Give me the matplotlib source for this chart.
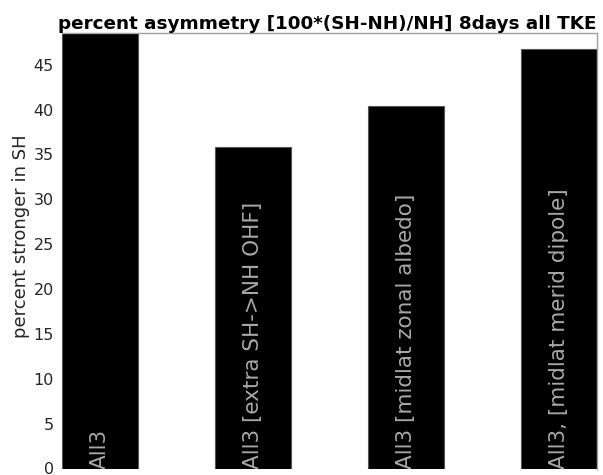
import matplotlib
matplotlib.use("Agg")
import matplotlib.pyplot as plt

categories = ["All3", "All3 [extra SH->NH OHF]", "All3 [midlat zonal albedo]", "All3, [midlat merid dipole]"]
values = [48.6, 35.8, 40.35, 46.75]
yticks = [0, 5, 10, 15, 20, 25, 30, 35, 40, 45]
ymax = 48.5

fig = plt.figure(figsize=(6.03, 4.75), dpi=100)
ax = fig.add_axes([62/603, 1-468.5/475, 535/603, 435.2/475])
x = list(range(1, len(values)+1))
ax.bar(x, values, width=0.5, color="black", edgecolor="#555555", linewidth=0.8)
ax.set_xlim(0.75, 4.25)
ax.set_ylim(0, ymax)
ax.set_yticks(yticks)
ax.set_xticks([])
ax.tick_params(axis="y", length=0, labelsize=11.5, colors="#262626", pad=6)
for s in ax.spines.values():
    s.set_color("#a0a0a0")
    s.set_linewidth(1.0)
ax.spines["left"].set_visible(False)
ax.spines["bottom"].set_visible(False)
for xi, lab in zip(x, categories):
    ax.text(xi, -0.1, lab, rotation=90, ha="center", va="bottom", color="#a8a8a8",
            fontsize=15.5, clip_on=True)
ax.set_ylabel("percent stronger in SH", fontsize=13, color="#262626")
ax.yaxis.set_label_coords(-0.06, 0.534)
ax.set_title("percent asymmetry [100*(SH-NH)/NH] 8days all TKE", fontsize=13.2,
             fontweight="bold", loc="right", pad=3)
fig.savefig("out.png", dpi=100)
